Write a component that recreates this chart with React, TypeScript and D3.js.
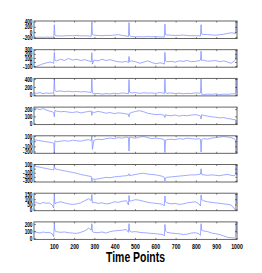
import * as d3 from 'd3';

const WIDTH = 262;
const HEIGHT = 273;
const MARGIN = { left: 34, right: 25, top: 21 };
const PANEL_H = 17.5;
const PANEL_STEP = 28.7;

// shared time axis (denser around the beats)
const TIME = [
  0, 15, 30, 45, 60, 75, 90, 97, 100, 103, 110, 130, 150, 170, 190, 210, 230, 250, 270, 282, 285, 288,
  295, 315, 335, 355, 375, 395, 415, 435, 455, 465, 468, 471, 480, 500, 520, 540, 560, 580, 600, 620,
  635, 642, 645, 648, 655, 675, 695, 715, 735, 755, 775, 795, 812, 820, 823, 826, 835, 855, 875, 895,
  915, 935, 955, 970, 985, 992, 995, 998, 1000,
];

const X_TICKS = [100, 200, 300, 400, 500, 600, 700, 800, 900, 1000];

const S1 = [
  -170, -180, -175, -185, -170, -180, -175, -190, 300, -100,
  -120, -130, -125, -115, -120, -110, -125, -120, -130, -140, 420, -80,
  -100, -110, -120, -105, -110, -95, -80, -110, -130, -150, 380, -120,
  -150, -160, -155, -165, -150, -160, -150, -170, -165, -175, 320, -80,
  -90, -100, -110, -105, -95, -110, -120, -115, -125, -130, 300, -60,
  -70, -75, -90, -100, -80, -60, -30, -10, -20, -40, 430, 100, 20,
];
const S2 = [
  -110, -90, -60, -30, -10, 10, 0, -20, 250, 60,
  40, 80, 50, 100, 60, 80, 50, 70, 40, 20, 240, -40,
  60, 40, 80, 50, 70, 40, 20, 10, 30, 0, 150, 20,
  40, 20, -20, 10, 40, 0, -30, -10, -20, -40, 250, 40,
  20, 30, 10, 40, 30, 50, 20, 30, 40, 60, 280, 50,
  60, 30, 40, 50, 20, 40, 10, -20, 30, 60, 300, 100, 60,
];
const S3 = [
  60, 50, 70, 40, 60, 50, 60, 40, 420, 120,
  100, 110, 95, 105, 90, 100, 85, 95, 80, 70, 420, 60,
  40, 50, 30, 45, 35, 55, 40, 60, 50, 40, 400, 80,
  60, 70, 50, 65, 55, 60, 50, 70, 60, 40, 410, 70,
  50, 60, 45, 55, 40, 50, 45, 60, 55, 60, 420, 30,
  20, 30, 25, 35, 20, 30, 25, 35, 40, 30, 420, 120, 60,
];
const S4 = [
  220, 210, 200, 215, 195, 180, 170, 160, 100, 190,
  180, 170, 175, 165, 160, 170, 155, 165, 175, 180, 120, 170,
  160, 175, 165, 150, 160, 145, 155, 150, 140, 135, 100, 150,
  160, 175, 185, 170, 150, 140, 130, 135, 125, 120, 90, 130,
  120, 115, 125, 110, 120, 115, 125, 130, 120, 110, 70, 130,
  120, 110, 100, 95, 85, 90, 75, 70, 60, 60, 0, 50, 40,
];
const S5 = [
  40, 30, 20, 10, 0, -10, -20, -30, -220, 20,
  0, 10, 20, 10, 30, 20, 10, 30, 40, 20, 110, -150,
  30, 50, 40, 60, 70, 60, 80, 70, 90, 80, -180, 90,
  80, 70, 90, 100, 80, 60, 70, 60, 50, 40, -210, 30,
  40, 50, 40, 60, 50, 70, 60, 50, 60, 50, -200, 40,
  60, 50, 70, 80, 90, 100, 90, 80, 60, 40, -220, 110, 60,
];
const S6 = [
  80, 60, 50, 30, 20, 0, -10, -20, 110, 10,
  0, -20, -40, -60, -80, -100, -130, -150, -170, -180, -300, -230,
  -250, -240, -220, -200, -210, -190, -180, -170, -160, -150, -110, -160,
  -150, -130, -110, -100, -120, -130, -140, -160, -180, -200, -290, -220,
  -200, -190, -180, -170, -160, -150, -140, -140, -130, -120, 10, -130,
  -140, -150, -140, -150, -160, -140, -130, -150, -160, -140, 100, -150, -100,
];
const S7 = [
  80, 70, 60, 75, 65, 70, 50, 20, 150, 60,
  70, 80, 70, 60, 55, 60, 70, 90, 110, 90, 150, 70,
  75, 65, 70, 60, 65, 80, 75, 85, 90, 50, 140, 85,
  90, 100, 95, 85, 75, 70, 65, 60, 55, 40, 135, 80,
  70, 60, 65, 55, 60, 70, 75, 80, 60, 40, 145, 100,
  90, 80, 75, 70, 65, 60, 55, 50, 20, 0, 155, 80, 60,
];
const S8 = [
  100, 90, 80, 95, 85, 90, 70, 30, 220, 110,
  100, 90, 95, 85, 80, 75, 90, 110, 150, 120, 210, 100,
  90, 85, 95, 80, 100, 110, 115, 120, 130, 90, 210, 110,
  95, 100, 90, 85, 80, 75, 70, 65, 60, 40, 200, 110,
  90, 80, 75, 70, 60, 65, 80, 85, 70, 50, 210, 120,
  110, 100, 80, 70, 60, 40, 20, 15, 10, 20, 230, 100, 70,
];

const SERIES = [S1, S2, S3, S4, S5, S6, S7, S8];
const Y_TICKS = [
  [-200, 0, 200, 400],
  [-100, 0, 100, 200, 300],
  [0, 200, 400],
  [0, 100, 200],
  [-200, -100, 0, 100],
  [-300, -200, -100, 0, 100],
  [0, 50, 100, 150],
  [0, 100, 200],
];
const Y_DOMAINS = [
  [-225, 440],
  [-115, 315],
  [-15, 430],
  [-8, 235],
  [-225, 115],
  [-315, 115],
  [-5, 162],
  [-8, 235],
];

const LINE_COLOR = '#7486ff';
const FONT = 'Liberation Sans, Arial, sans-serif';

const Panel = ({ idx, xScale }: { idx: number; xScale: d3.ScaleLinear<number, number> }) => {
  const top = MARGIN.top + idx * PANEL_STEP;
  const yScale = d3.scaleLinear().domain(Y_DOMAINS[idx]).range([top + PANEL_H, top]);
  const values = SERIES[idx];
  const line = d3
    .line<number>()
    .x((_, i) => xScale(TIME[i]))
    .y((d) => yScale(d));
  const [x0, x1] = xScale.range();
  return (
    <g>
      <path d={line(values) || ''} fill="none" stroke={LINE_COLOR} strokeWidth={0.7} />
      <rect x={x0} y={top} width={x1 - x0} height={PANEL_H} fill="none" stroke="#555" strokeWidth={0.9} />
      {Y_TICKS[idx].map((t) => (
        <g key={t}>
          <line x1={x0} x2={x0 + 2} y1={yScale(t)} y2={yScale(t)} stroke="#333" strokeWidth={0.6} />
          <line x1={x1} x2={x1 - 2} y1={yScale(t)} y2={yScale(t)} stroke="#333" strokeWidth={0.6} />
          <text
            transform={`translate(${x0 - 1.5},${yScale(t) + 2.1}) scale(0.75,1)`}
            textAnchor="end"
            fontSize={6.3}
            fontWeight="bold"
            fontFamily={FONT}
            fill="#000"
          >
            {t}
          </text>
        </g>
      ))}
      {X_TICKS.map((t) => (
        <g key={t}>
          <line x1={xScale(t)} x2={xScale(t)} y1={top} y2={top + 1.5} stroke="#333" strokeWidth={0.6} />
          <line x1={xScale(t)} x2={xScale(t)} y1={top + PANEL_H} y2={top + PANEL_H - 1.5} stroke="#333" strokeWidth={0.6} />
        </g>
      ))}
    </g>
  );
};

export default function App() {
  const xScale = d3.scaleLinear().domain([0, 1000]).range([MARGIN.left, WIDTH - MARGIN.right]);
  const bottom = MARGIN.top + 7 * PANEL_STEP + PANEL_H;

  return (
    <div style={{ position: 'absolute', left: 0, top: 0 }}>
      <svg width={WIDTH} height={HEIGHT} style={{ display: 'block', background: '#fff' }}>
        {SERIES.map((_, i) => (
          <Panel key={i} idx={i} xScale={xScale} />
        ))}
        {X_TICKS.map((t) => (
          <text
            key={t}
            transform={`translate(${xScale(t)},${bottom + 9.5}) scale(0.75,1)`}
            textAnchor="middle"
            fontSize={7}
            fontWeight="bold"
            fontFamily={FONT}
            fill="#000"
          >
            {t}
          </text>
        ))}
        <text
          transform={`translate(${(xScale(0) + xScale(1000)) / 2},${bottom + 22.5}) scale(0.72,1)`}
          textAnchor="middle"
          fontSize={14.5}
          fontWeight="bold"
          fontFamily={FONT}
          fill="#000"
        >
          Time Points
        </text>
      </svg>
    </div>
  );
}
